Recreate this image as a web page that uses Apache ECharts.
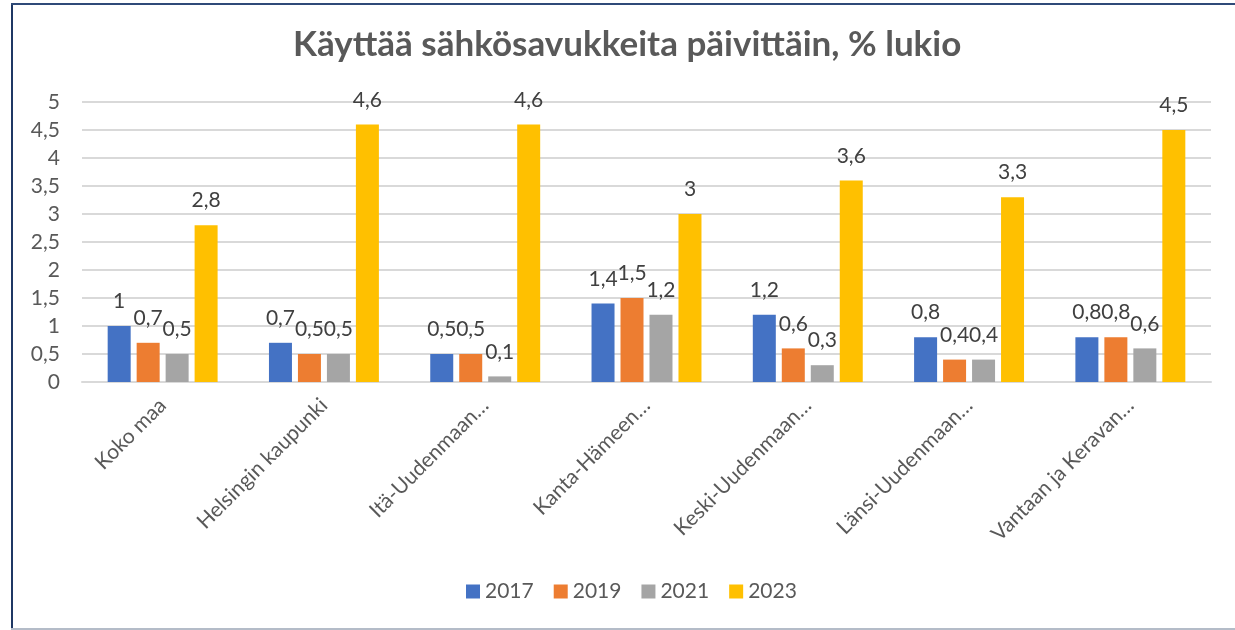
<!DOCTYPE html>
<html>
<head>
<meta charset="utf-8">
<script src="https://cdn.jsdelivr.net/npm/echarts@6/dist/echarts.min.js"></script>
<style>
  html, body { margin: 0; padding: 0; background: #ffffff; }
  #frame {
    position: absolute; left: 0; top: 0; width: 1235px; height: 630px;
    box-sizing: border-box; overflow: hidden;
  }
  #edgeLeft { position: absolute; left: 11px; top: 3px; width: 2px; height: 627px; background: #1f3864; }
  #edgeTop { position: absolute; left: 11px; top: 3px; width: 1224px; height: 2px; background: #2f4a78; }
  #edgeBottom { position: absolute; left: 11px; top: 628px; width: 1224px; height: 2px; background: #b4bcc8; }
  #chart { position: absolute; left: 0; top: 0; width: 1235px; height: 630px; }
</style>
</head>
<body>
<div id="frame">
  <div id="chart"></div>
  <div id="edgeLeft"></div>
  <div id="edgeTop"></div>
  <div id="edgeBottom"></div>
</div>
<script>
// Regions (names shortened as on the axis)
const categories = [
  'Koko maa',
  'Helsingin kaupunki',
  'Itä-Uudenmaan…',
  'Kanta-Hämeen…',
  'Keski-Uudenmaan…',
  'Länsi-Uudenmaan…',
  'Vantaan ja Keravan…'
];

// Daily e-cigarette use, % of upper secondary students, by survey year
const years = ['2017', '2019', '2021', '2023'];
const values2017 = [1.0, 0.7, 0.5, 1.4, 1.2, 0.8, 0.8];
const values2019 = [0.7, 0.5, 0.5, 1.5, 0.6, 0.4, 0.8];
const values2021 = [0.5, 0.5, 0.1, 1.2, 0.3, 0.4, 0.6];
const values2023 = [2.8, 4.6, 4.6, 3.0, 3.6, 3.3, 4.5];

const colors = ['#4472c4', '#ed7d31', '#a5a5a5', '#ffc000'];
const seriesValues = [values2017, values2019, values2021, values2023];

const font = 'Lato, "Open Sans", "Liberation Sans", sans-serif';
const comma = v => String(v).replace('.', ',');

const chart = echarts.init(document.getElementById('chart'), null, { renderer: 'canvas' });

chart.setOption({
  animation: false,
  backgroundColor: '#ffffff',
  title: {
    text: 'Käyttää sähkösavukkeita päivittäin, % lukio',
    left: 293,
    top: 27,
    padding: 0,
    textStyle: { fontFamily: font, fontSize: 35, fontWeight: 'bold', color: '#595959' }
  },
  legend: {
    data: years,
    bottom: 28,
    left: 466,
    padding: 0,
    icon: 'rect',
    itemWidth: 14,
    itemHeight: 14,
    itemGap: 20,
    textStyle: { fontFamily: font, fontSize: 21, color: '#595959' }
  },
  grid: { left: 82, right: 24, top: 102, bottom: 248, containLabel: false },
  xAxis: {
    type: 'category',
    data: categories,
    axisTick: { show: false },
    axisLine: { lineStyle: { color: '#d9d9d9', width: 2 } },
    axisLabel: {
      rotate: 45,
      interval: 0,
      margin: 20,
      fontFamily: font,
      fontSize: 21,
      color: '#595959'
    }
  },
  yAxis: {
    type: 'value',
    min: 0,
    max: 5,
    interval: 0.5,
    axisLine: { show: false },
    axisTick: { show: false },
    splitLine: { lineStyle: { color: '#d9d9d9', width: 2 } },
    axisLabel: {
      margin: 22,
      fontFamily: font,
      fontSize: 21,
      color: '#595959',
      formatter: v => comma(v)
    }
  },
  series: years.map((y, i) => ({
    name: y,
    type: 'bar',
    data: seriesValues[i],
    barWidth: 23,
    barGap: '26%',
    itemStyle: { color: colors[i] },
    label: {
      show: true,
      position: 'top',
      distance: 14,
      fontFamily: font,
      fontSize: 21,
      color: '#404040',
      formatter: p => comma(p.value)
    }
  }))
});
</script>
</body>
</html>
